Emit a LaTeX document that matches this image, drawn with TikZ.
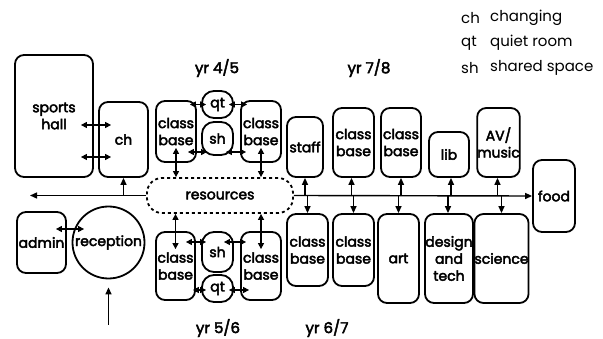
\documentclass[tikz,border=0pt]{standalone}
\usepackage{fontspec}
\setmainfont{Poppins}
\newfontfamily\boxfont{Poppins}[FakeBold=3]
\usetikzlibrary{arrows.meta,calc,shapes.geometric}
\tikzset{
  box/.style={draw, line width=1.8pt, rounded corners=9pt, align=center, inner sep=0pt,
    font=\boxfont\fontsize{14}{17}\selectfont},
  pill/.style={box, rounded corners=12pt},
  conn/.style={line width=1.4pt, -{Triangle[length=7pt,width=6pt]}},
  dbl/.style={line width=1.4pt, {Triangle[length=6pt,width=6pt]}-{Triangle[length=6pt,width=6pt]}},
  lbl/.style={font=\boxfont\fontsize{15}{17}\selectfont, inner sep=0pt},
  leg/.style={font=\fontsize{15}{17}\selectfont, inner sep=0pt, anchor=west}
}
\begin{document}
\begin{tikzpicture}[x=1pt,y=-1pt]
\useasboundingbox (0,0) rectangle (603,339);
% top row
\node[box, minimum width=78pt, minimum height=122pt] (sports) at (54,116) {sports\\hall};
\node[box, minimum width=49pt, minimum height=75pt] (ch) at (123.5,139.5) {ch};
\node[box, minimum width=40pt, minimum height=61pt] (cb1) at (176,131.5) {class\\base};
\node[pill, minimum width=31pt, minimum height=27pt] (qt1) at (217.5,104.5) {qt};
\node[pill, minimum width=31pt, minimum height=33pt] (sh1) at (217.5,138.5) {sh};
\node[box, minimum width=40pt, minimum height=61pt] (cb2) at (261,131.5) {class\\base};
\node[box, dashed, dash pattern=on 3pt off 3pt, rounded corners=15pt, minimum width=146pt, minimum height=35pt] (res) at (220,195.5) {resources};
\node[box, minimum width=36pt, minimum height=60pt] (staff) at (305,147) {staff};
\node[box, minimum width=41pt, minimum height=69pt] (cb3) at (353.5,142.5) {class\\base};
\node[box, minimum width=40pt, minimum height=69pt] (cb4) at (401,142.5) {class\\base};
\node[box, minimum width=40pt, minimum height=45pt] (lib) at (449,154.5) {lib};
\node[box, minimum width=41pt, minimum height=69pt] (av) at (498.5,142.5) {AV/\\music};
\node[box, minimum width=42pt, minimum height=72pt] (food) at (554,196) {food};
% bottom row
\node[draw, line width=1.8pt, circle, minimum size=72pt, inner sep=0pt, font=\boxfont\fontsize{14}{17}\selectfont] (rec) at (108.5,242.5) {reception};
\node[box, minimum width=49pt, minimum height=61pt] (admin) at (41.5,242.5) {admin};
\node[box, minimum width=39pt, minimum height=68pt] (cb5) at (175.5,266) {class\\base};
\node[pill, minimum width=31pt, minimum height=40pt] (sh2) at (217.5,252) {sh};
\node[pill, minimum width=31pt, minimum height=27pt] (qt2) at (217.5,288.5) {qt};
\node[box, minimum width=40pt, minimum height=68pt] (cb6) at (261,266) {class\\base};
\node[box, minimum width=41pt, minimum height=72pt] (cb7) at (307.5,250) {class\\base};
\node[box, minimum width=41pt, minimum height=72pt] (cb8) at (353.5,250) {class\\base};
\node[box, minimum width=41pt, minimum height=89pt] (art) at (398.5,258.5) {art};
\node[box, minimum width=48pt, minimum height=89pt] (dt) at (449,258.5) {design\\and\\tech};
\node[box, minimum width=53pt, minimum height=89pt] (sci) at (501.5,258.5) {science};
% labels
\node[lbl] (y45) at (217,68) {yr 4/5};
\node[lbl] (y78) at (369,68) {yr 7/8};
\node[lbl] (y56) at (218,328) {yr 5/6};
\node[lbl] (y67) at (327,328) {yr 6/7};
% legend
\node[leg] (l1a) at (461,18) {ch};
\node[leg] (l1b) at (490,18) {changing};
\node[leg] (l2a) at (461,43) {qt};
\node[leg] (l2b) at (490,43) {quiet room};
\node[leg] (l3a) at (461,68) {sh};
\node[leg] (l3b) at (490,68) {shared space};
% main corridor
\coordinate (west) at (30,195.5);
\draw[conn] (res.west) -- (west);
\draw[conn] (res.east) -- (food.west);
\draw[conn] (ch.south |- res.west) -- (ch.south);
% up arrows to top row
\draw[conn] (staff.south |- res.east) -- (staff.south);
\draw[conn] ([xshift=-2pt]cb3.south |- res.east) -- ([xshift=-2pt]cb3.south);
\draw[conn] (cb4.south |- res.east) -- (cb4.south);
\draw[conn] ([xshift=2pt]lib.south |- res.east) -- ([xshift=2pt]lib.south);
\draw[conn] ([xshift=-1pt]av.south |- res.east) -- ([xshift=-1pt]av.south);
% down arrows to bottom row
\draw[conn] (cb7.north |- res.east) -- (cb7.north);
\draw[conn] (cb8.north |- res.east) -- (cb8.north);
\draw[conn] (art.north |- res.east) -- (art.north);
\draw[conn] ([xshift=-1pt]dt.north |- res.east) -- ([xshift=-1pt]dt.north);
\draw[conn] (sci.north |- res.east) -- (sci.north);
% class bases to resources
\draw[dbl] ([yshift=15pt]cb1.south) -- (cb1.south |- res.north);
\draw[dbl] ([yshift=15pt]cb2.south) -- (cb2.south |- res.north);
\draw[dbl] (cb5.north |- res.south) -- ([yshift=-18pt]cb5.north);
\draw[dbl] (cb6.north |- res.south) -- ([yshift=-18pt]cb6.north);
% sports hall - changing
\draw[dbl] ($(sports.east)+(-13,9)$) -- ($(ch.west)+(13,-14.5)$);
\draw[dbl] ($(sports.east)+(-13,41)$) -- ($(ch.west)+(13,17.5)$);
% yr 4/5 cluster
\draw[dbl] ($(cb1.east)+(-7,-27)$) -- ([xshift=5pt]qt1.west);
\draw[dbl] ([xshift=-5pt]qt1.east) -- ($(cb2.west)+(7,-27)$);
\draw[dbl] ($(cb1.east)+(-9,20.5)$) -- ($(sh1.west)+(6,13.5)$);
\draw[dbl] ($(sh1.east)+(-8,13.5)$) -- ($(cb2.west)+(6,20.5)$);
% yr 5/6 cluster
\draw[dbl] ($(cb5.east)+(-10,-24)$) -- ($(sh2.west)+(5,-10)$);
\draw[dbl] ($(sh2.east)+(-10,-10)$) -- ($(cb6.west)+(6,-24)$);
\draw[dbl] ($(cb5.east)+(-3,24)$) -- ($(qt2.west)+(5,1.5)$);
\draw[dbl] ($(qt2.east)+(-5,1.5)$) -- ($(cb6.west)+(9,24)$);
% admin - reception
\draw[dbl] ($(admin.east)+(-11,-13.5)$) -- ($(rec.west)+(12.5,-13.5)$);
% entrance
\coordinate (entry) at (108.5,325);
\draw[conn] (entry) -- ($(rec.south)+(0,8)$);
\end{tikzpicture}
\end{document}
